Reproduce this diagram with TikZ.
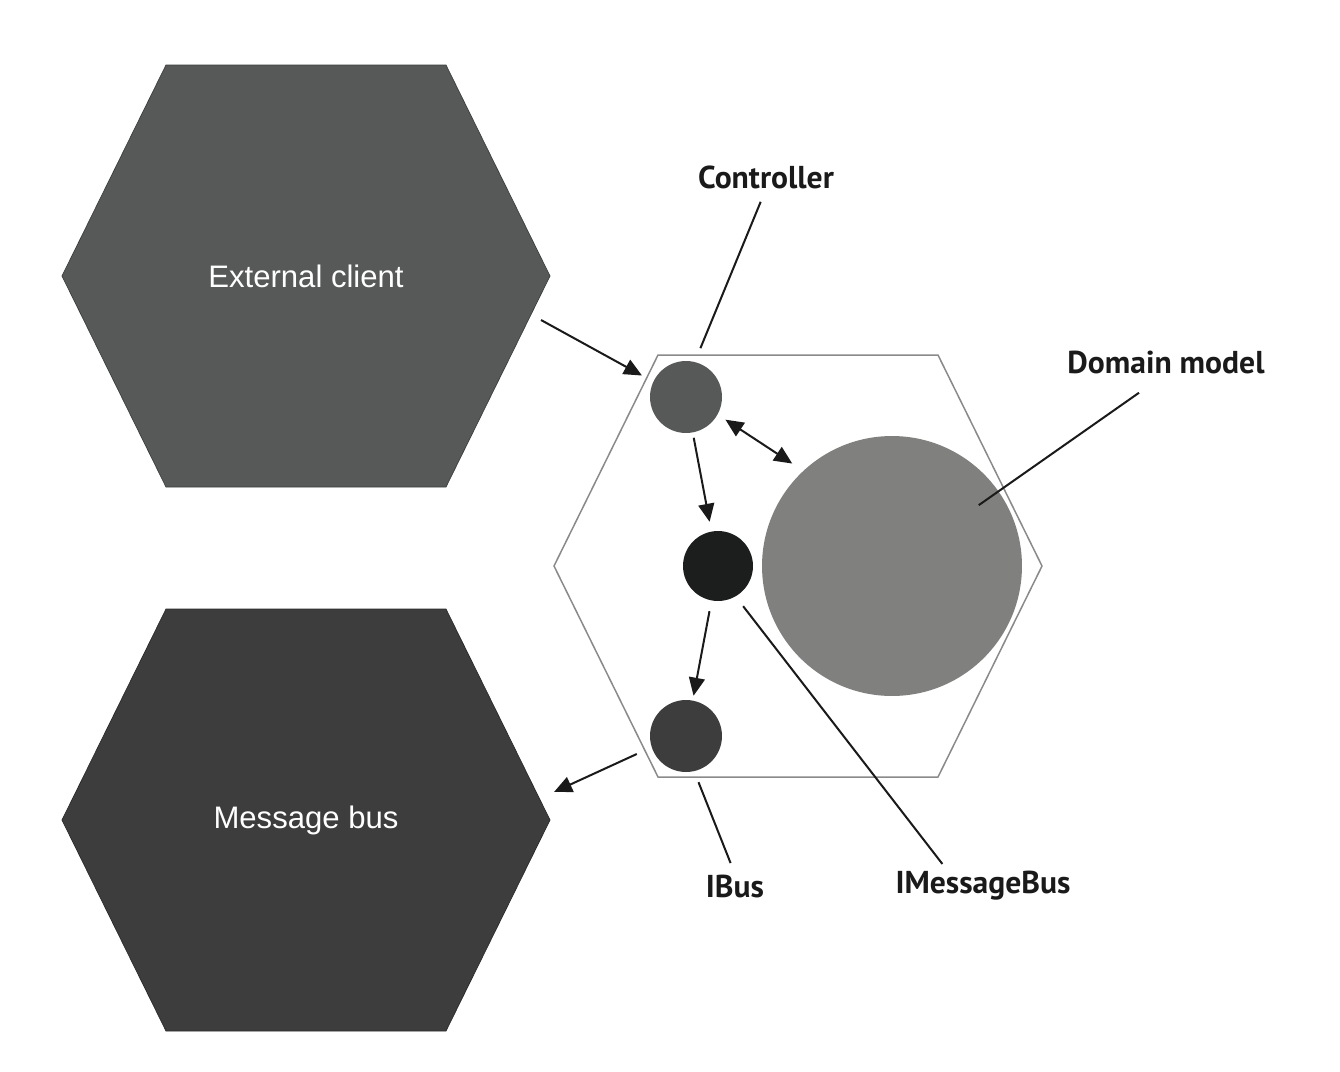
\documentclass[tikz,border=0pt]{standalone}
\usepackage{fontspec}
\setmainfont{Liberation Sans}
\newfontfamily\lblfont{PT Sans}
\usetikzlibrary{arrows.meta, positioning, calc}
\definecolor{HexGrey}{HTML}{575958}
\definecolor{HexDark}{HTML}{3D3D3D}
\definecolor{CoreBlack}{HTML}{1C1D1D}
\definecolor{DomainGrey}{HTML}{80817F}
\definecolor{RimGrey}{HTML}{8A8A8A}
\definecolor{InkBlack}{HTML}{1A1A1A}
% stretched hexagon round a centre: #1 centre, #2 path style
\newcommand{\hexround}[2]{%
  \path[#2] ($(#1)+(-140,-211)$) -- ++(280,0) -- ++(104,211) -- ++(-104,211)
    -- ++(-280,0) -- ++(-104,-211) -- cycle;}

\begin{document}
\begin{tikzpicture}[x=0.02cm, y=-0.02cm,
  hexlbl/.style={inner sep=0pt, text=white, font=\fontsize{17.7}{20}\selectfont},
  port/.style={circle, minimum size=1.44cm, inner sep=0pt, outer sep=0pt},
  lbl/.style={font=\lblfont\bfseries\fontsize{18}{20}\selectfont, text=InkBlack, inner sep=0pt},
  arr/.style={-{Triangle[length=0.36cm, width=0.32cm]}, line width=0.04cm, InkBlack},
  pin/.style={line width=0.04cm, InkBlack},
]
  \fill[white] (0,0) rectangle (1340,1072);
  \useasboundingbox (0,0) rectangle (1340,1072);

  % outer hexagons
  \hexround{306,276}{fill=HexGrey, draw=HexGrey!70!black, thin}
  \hexround{306,820}{fill=HexDark, draw=HexDark!70!black, thin}
  \node[hexlbl] (client) at (306,276) {External client};
  \node[hexlbl] (bus) at (306,820) {Message bus};
  % application hexagon
  \coordinate (core) at (798,566);
  \hexround{core}{draw=RimGrey, line width=0.03cm}

  % ports and domain
  \node[port, fill=HexGrey] (ctrl) at (686,397) {};
  \node[port, fill=CoreBlack, minimum size=1.40cm] (imb) at (718,566) {};
  \node[port, fill=HexDark] (ibus) at (686,736) {};
  \node[circle, fill=DomainGrey, minimum size=5.2cm, inner sep=0pt] (domain) at (892,566) {};

  % labels
  \node[lbl] (ctrlLbl) at (766,177) {Controller};
  \node[lbl] (domLbl) at (1166,362) {Domain model};
  \node[lbl] (ibusLbl) at (735,886) {IBus};
  \node[lbl] (imbLbl) at (983,886) {IMessageBus};

  % free ends beside the outer hexagons
  \coordinate (clientOut) at (541,320);
  \coordinate (busIn) at (554,792);

  % flow
  \draw[arr, shorten >=0.26cm] (clientOut) -- (ctrl.155);
  \draw[arr, shorten <=0.11cm, shorten >=0.2cm] (ctrl) -- (imb);
  \draw[arr, shorten <=0.22cm, shorten >=0.1cm] (imb) -- (ibus);
  \draw[arr, {Triangle[length=0.36cm, width=0.32cm]}-{Triangle[length=0.36cm, width=0.32cm]}, shorten <=0.19cm, shorten >=0.26cm] (ctrl.-29) -- (domain.133);
  \draw[arr, shorten <=0.33cm] (ibus.-162) -- (busIn);

  % leaders
  \draw[pin, shorten <=0.28cm, shorten >=0.3cm] (ctrlLbl.south) -- (ctrl.76);
  \draw[pin, shorten <=0.66cm, shorten >=2.12cm] (domLbl.south) -- (domain.center);
  \draw[pin, shorten <=0.24cm, shorten >=0.24cm] (ibus.-77) -- (ibusLbl.north);
  \draw[pin, shorten <=0.25cm, shorten >=0.18cm] (imb.-60) -- ($(imbLbl.north west)!0.3!(imbLbl.north east)$);
\end{tikzpicture}
\end{document}
